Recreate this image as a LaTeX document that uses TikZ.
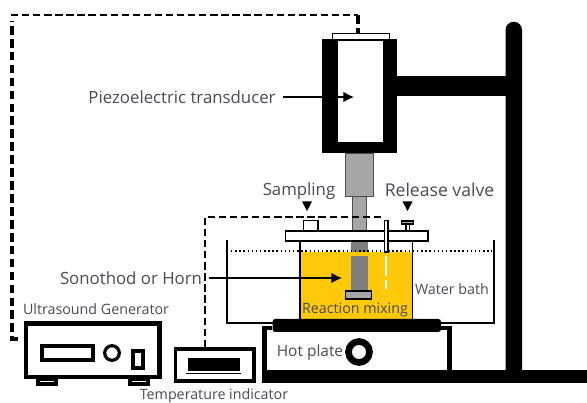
\documentclass[tikz,border=0pt]{standalone}
\usepackage{fontspec}
\setmainfont{Open Sans}
\usetikzlibrary{arrows.meta}
\definecolor{mixyellow}{HTML}{FFC90B}
\definecolor{horngray}{HTML}{A6A6A6}
\definecolor{horndark}{HTML}{7F7F7F}
\definecolor{labelgray}{HTML}{4A4A55}
\tikzset{
	lbl/.style={inner sep=0pt, text=labelgray},
	lblbig/.style={lbl, font=\fontsize{12.6}{14}\selectfont},
	lblmid/.style={lbl, font=\fontsize{11.6}{13}\selectfont},
	lblsmall/.style={lbl, font=\fontsize{10.7}{12}\selectfont},
	pointer/.style={-{Latex[length=8pt, width=8pt]}, line width=1.1pt, shorten <=5pt},
	cable/.style={line width=1.2pt, dash pattern=on 5.5pt off 2.8pt},
	heavycable/.style={line width=2.4pt, dash pattern=on 6.5pt off 3.2pt},
	steel/.style={draw=black!70, line width=0.5pt, fill=horngray},
}
\begin{document}
\begin{tikzpicture}[x=0.75pt, y=-0.75pt, line width=1.1pt]
		\useasboundingbox (0,0) rectangle (587,403);
		\fill[black] (505.5,372) -- (505.5,30) arc[start angle=180, end angle=360, radius=8.25] -- (522,372) -- cycle;
		\fill[black] (397,76) rectangle (506,96);
		\fill[black] (262,370) rectangle (587,383);
		\fill[black] (322,39) rectangle (397,153);
		\draw[fill=white, line width=0.6pt] (337,40) rectangle (383,142);
		\draw[fill=white, line width=0.7pt] (332,33) rectangle (389,39);
		\draw[steel] (345,153) rectangle (373,196);
		\draw[steel] (352,196) rectangle (366,232);
		\fill[mixyellow] (300,252) rectangle (412,319);
		\draw[fill=horndark, draw=none] (351,241) rectangle (368,252);
		\draw[fill=horndark, draw=none] (351,256) rectangle (368,291);
		\draw[fill=horngray] (345.5,291) rectangle (371.5,299);
		\draw (300,240) -- (300,319);
		\draw (412.5,240) -- (412.5,319);
		\draw (227,240) -- (227,323) -- (494,323) -- (494,240);
		\draw[dotted] (231,251) -- (492,251);
		\draw[fill=white] (285.5,231) rectangle (428,241);
		\draw[fill=white] (303.5,220.5) rectangle (318,231);
		\draw[fill=white] (384.5,220.5) rectangle (388,252);
		\draw[white, dash pattern=on 15pt off 3pt] (386,256) -- (386,289);
		\draw[fill=white] (406,224) rectangle (409.5,231);
		\draw[fill=horngray] (401.5,221) rectangle (413.5,224);
		\fill[black, rounded corners=2pt] (272.5,319) rectangle (441,332);
		\draw[line width=3.6pt] (264.5,370) -- (264.5,328) -- (272,328);
		\draw[line width=3.6pt] (441,328) -- (449.5,328) -- (449.5,370);
		\draw[line width=5pt] (359,352) circle (10.5);
		\draw[line width=3.2pt] (26,323.5) rectangle (159.5,377);
		\draw[line width=3.2pt] (42,346) rectangle (93,360);
		\draw[line width=2.4pt] (112,353) circle (7.3);
		\draw[line width=3.2pt] (133,351) rectangle (143,368);
		\foreach \i in {36,128} {
			\fill[black] (\i,378) rectangle (\i+22,386);
			\draw[white, line width=0.4pt] (\i+4,381.5) -- (\i+18,381.5);
		}
		\draw[line width=2.4pt] (175.5,349) rectangle (254,381);
		\fill[black] (188,358) rectangle (240,371);
		\draw[line width=0.6pt] (186,373) -- (241,373);
		\node[lblbig] (piezolabel) at (182,97) {Piezoelectric transducer};
		\node[lblbig] (hornlabel) at (131,278) {Sonothod or Horn};
		\node[lblbig] (samplinglabel) at (299,191) {Sampling};
		\node[lblbig, font=\fontsize{13.2}{15}\selectfont] (valvelabel) at (439.5,190) {Release valve};
		\node[lblsmall] (mixlabel) at (355,310) {Reaction mixing};
		\node[lblsmall] (bathlabel) at (452,289) {Water bath};
		\node[lblmid] (platelabel) at (310,352) {Hot plate};
		\node[lblsmall] (generatorlabel) at (96,309.5) {Ultrasound Generator};
		\node[lblsmall] (indicatorlabel) at (214,396) {Temperature indicator};
		\coordinate (piezotip) at (354,97);
		\coordinate (horntip) at (342,278);
		\coordinate (samplingtip) at (307,211);
		\coordinate (valvetip) at (407.5,211);
		\coordinate (generatorend) at (18,339);
		\coordinate (lowcorner) at (12,339);
		\coordinate (highcorner) at (12,21);
		\coordinate (topleft) at (11,15);
		\coordinate (topright) at (358,15);
		\coordinate (capend) at (358,33);
		\coordinate (indicatorend) at (205,347);
		\coordinate (thermoend) at (384,217);
		\draw[pointer] (piezolabel) -- (piezotip);
		\draw[pointer] (hornlabel) -- (horntip);
		\fill[black] (samplingtip) -- ++(-5,-9.5) -- ++(10,0) -- cycle;
		\fill[black] (valvetip) -- ++(-5,-9.5) -- ++(10,0) -- cycle;
		\draw[heavycable] (generatorend) -- (lowcorner) -- (highcorner);
		\draw[cable] (topleft) -- (topright);
		\draw[heavycable] (topright) -- (capend);
		\draw[cable] (indicatorend) -- (205,217) -- (thermoend);
	\end{tikzpicture}
\end{document}
